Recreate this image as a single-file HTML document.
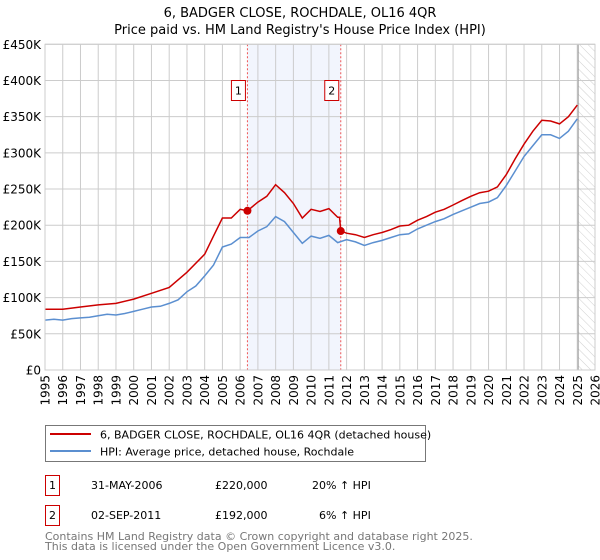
<!DOCTYPE html>
<html><head><meta charset="utf-8"><style>
body{margin:0;background:#fff;}
svg{display:block;font-family:"DejaVu Sans","Liberation Sans",sans-serif;}
</style></head><body>
<svg id="chart" width="600" height="560" viewBox="0 0 600 560">
<defs><pattern id="hatch" width="6" height="6" patternUnits="userSpaceOnUse" patternTransform="rotate(-45)"><line x1="0" y1="0" x2="0" y2="6" stroke="#d0d0d0" stroke-width="1"/></pattern></defs>
<text x="300" y="17" text-anchor="middle" font-size="13">6, BADGER CLOSE, ROCHDALE, OL16 4QR</text>
<text x="300" y="34" text-anchor="middle" font-size="13">Price paid vs. HM Land Registry's House Price Index (HPI)</text>
<g id="plot"></g>
<g>
<rect x="45.5" y="425.5" width="380" height="36" fill="#fff" stroke="#777"/>
<line x1="50" y1="434" x2="91" y2="434" stroke="#cc0000" stroke-width="2"/>
<text x="100" y="438.5" font-size="11">6, BADGER CLOSE, ROCHDALE, OL16 4QR (detached house)</text>
<line x1="50" y1="451" x2="91" y2="451" stroke="#5b8fd0" stroke-width="2"/>
<text x="100" y="455.5" font-size="11">HPI: Average price, detached house, Rochdale</text>
</g>
<g font-size="11">
<rect x="45.5" y="475.5" width="14" height="20" fill="#fff" stroke="#cc0000"/>
<text x="52.5" y="489" text-anchor="middle">1</text>
<text x="91" y="489">31-MAY-2006</text>
<text x="215" y="489">£220,000</text>
<text x="312" y="489">20% ↑ HPI</text>
<rect x="45.5" y="505.5" width="14" height="20" fill="#fff" stroke="#cc0000"/>
<text x="52.5" y="519" text-anchor="middle">2</text>
<text x="91" y="519">02-SEP-2011</text>
<text x="215" y="519">£192,000</text>
<text x="319" y="519">6% ↑ HPI</text>
</g>
<text x="45" y="540" font-size="11" fill="#777">Contains HM Land Registry data © Crown copyright and database right 2025.</text>
<text x="45" y="550" font-size="11" fill="#777">This data is licensed under the Open Government Licence v3.0.</text>
</svg>
<script>
const hpiYears=[1995,1995.5,1996,1996.5,1997,1997.5,1998,1998.5,1999,1999.5,2000,2000.5,2001,2001.5,2002,2002.5,2003,2003.5,2004,2004.5,2005,2005.5,2006,2006.5,2007,2007.5,2008,2008.5,2009,2009.5,2010,2010.5,2011,2011.5,2012,2012.5,2013,2013.5,2014,2014.5,2015,2015.5,2016,2016.5,2017,2017.5,2018,2018.5,2019,2019.5,2020,2020.5,2021,2021.5,2022,2022.5,2023,2023.5,2024,2024.5,2025];
const hpiValues=[69,70,69,71,72,73,75,77,76,78,81,84,87,88,92,97,108,116,130,145,170,174,183,183,192,198,212,205,190,175,185,182,186,176,180,177,172,176,179,183,187,188,195,200,205,209,215,220,225,230,232,238,255,275,295,310,325,325,320,330,347];
const propYears=[1995,1996,1997,1998,1999,2000,2001,2002,2003,2004,2004.5,2005,2005.5,2006,2006.41,2007,2007.5,2008,2008.5,2009,2009.5,2010,2010.5,2011,2011.5,2011.6,2011.67,2012,2012.5,2013,2013.5,2014,2014.5,2015,2015.5,2016,2016.5,2017,2017.5,2018,2018.5,2019,2019.5,2020,2020.5,2021,2021.5,2022,2022.5,2023,2023.5,2024,2024.5,2025];
const propValues=[84,84,87,90,92,98,106,114,135,160,185,210,210,222,220,232,240,256,245,230,210,222,219,223,211,211,192,189,187,183,187,190,194,199,200,207,212,218,222,228,234,240,245,247,253,270,292,312,330,345,344,340,350,366];
const saleYears=[2006.41,2011.67];
const saleValues=[220,192];
const saleLabels=["1","2"];
const yTicks=[0,50,100,150,200,250,300,350,400,450];
const yTickLabels=["£0","£50K","£100K","£150K","£200K","£250K","£300K","£350K","£400K","£450K"];
const xTicks=[1995,1996,1997,1998,1999,2000,2001,2002,2003,2004,2005,2006,2007,2008,2009,2010,2011,2012,2013,2014,2015,2016,2017,2018,2019,2020,2021,2022,2023,2024,2025,2026];

const L=45,R=595,T=44.3,B=370;
const X0=1995,X1=2026,YMAX=450;
const xs=v=>L+(v-X0)/(X1-X0)*(R-L);
const ys=v=>B-v/YMAX*(B-T);
const NS="http://www.w3.org/2000/svg";
const g=document.getElementById('plot');
function mk(tag,attrs,parent){const e=document.createElementNS(NS,tag);for(const k in attrs)e.setAttribute(k,attrs[k]);(parent||g).appendChild(e);return e;}

const sh=mk('rect',{x:xs(saleYears[0]),y:T,width:xs(saleYears[1])-xs(saleYears[0]),height:B-T,fill:'#f2f5fd'});


const ht=mk('rect',{x:xs(2025.05),y:T,width:R-xs(2025.05),height:B-T,fill:'url(#hatch)'});



yTicks.forEach((t,i)=>{
  const ln=mk('line',{x1:L,x2:R,y1:ys(t),y2:ys(t),stroke:'#ccc','stroke-width':1});
  
  
  const tx=mk('text',{x:L-4,y:ys(t)+4.5,'text-anchor':'end','font-size':12});
  
  
  tx.textContent=yTickLabels[i];
});
xTicks.forEach(t=>{
  const ln=mk('line',{x1:xs(t),x2:xs(t),y1:T,y2:B,stroke:'#ccc','stroke-width':1});
  
  
  const tx=mk('text',{x:0,y:0,'font-size':12,'text-anchor':'end',transform:`translate(${xs(t)+4.5},${B+5}) rotate(-90)`});
  
  
  tx.textContent=t;
});
const dl=mk('line',{x1:xs(2025.05),x2:xs(2025.05),y1:T,y2:B,stroke:'#999','stroke-width':1});



saleYears.forEach((y,i)=>{
  const v=mk('line',{x1:xs(y),x2:xs(y),y1:T,y2:B,stroke:'#e55','stroke-width':1,'stroke-dasharray':'2,2'});
  
  
  const bx=mk('rect',{x:xs(y)-16,y:80.5,width:14,height:20,fill:'#fff',stroke:'#cc0000'});
  
  
  const tx=mk('text',{x:xs(y)-9,y:94.5,'text-anchor':'middle','font-size':11});
  
  
  tx.textContent=saleLabels[i];
});

function path(xa,va){return xa.map((x,i)=>(i?'L':'M')+xs(x).toFixed(1)+','+ys(va[i]).toFixed(1)).join('');}
const hp=mk('path',{d:path(hpiYears,hpiValues),fill:'none',stroke:'#5b8fd0','stroke-width':1.5});


const pp=mk('path',{d:path(propYears,propValues),fill:'none',stroke:'#cc0000','stroke-width':1.5});


saleYears.forEach((y,i)=>{
  const c=mk('circle',{cx:xs(y),cy:ys(saleValues[i]),r:4,fill:'#cc0000'});
  
  
});
const fr=mk('rect',{x:L,y:T,width:R-L,height:B-T,fill:'none',stroke:'#ccc'});


</script>
</body></html>
